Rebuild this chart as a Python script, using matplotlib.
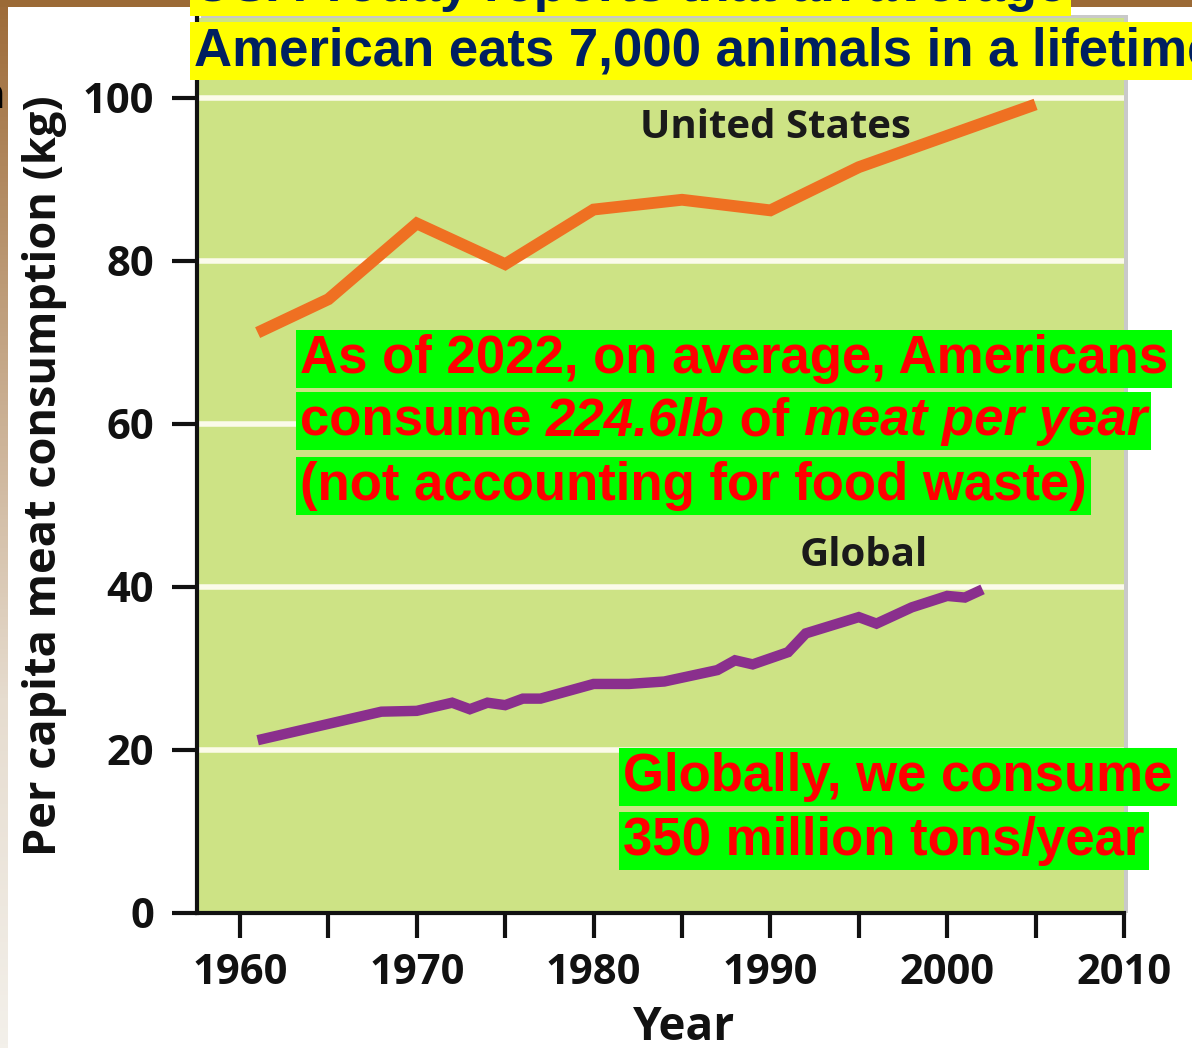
import numpy as np
import matplotlib.pyplot as plt
from matplotlib.patches import Rectangle
from matplotlib.colors import LinearSegmentedColormap
from matplotlib.offsetbox import TextArea, HPacker, AnchoredOffsetbox

# per capita meat consumption (kg)
us_years = [1961, 1965, 1970, 1975, 1980, 1985, 1990, 1995, 2005]
us_kg = [71.2, 75.3, 84.6, 79.6, 86.3, 87.5, 86.2, 91.5, 99.2]

global_years = [1961, 1968, 1970, 1972, 1973, 1974, 1975, 1976, 1977, 1980, 1982,
                1984, 1987, 1988, 1989, 1991, 1992, 1995, 1996, 1998, 2000, 2001, 2002]
global_kg = [21.2, 24.7, 24.8, 25.8, 25.0, 25.8, 25.5, 26.3, 26.3, 28.1, 28.1,
             28.4, 29.8, 31.0, 30.5, 32.0, 34.3, 36.3, 35.5, 37.5, 38.9, 38.7, 39.7]

x_ticks = [1960, 1970, 1980, 1990, 2000, 2010]
x_minor = [1965, 1975, 1985, 1995, 2005]
y_ticks = [0, 20, 40, 60, 80, 100]

W, H = 1192, 1048
fig = plt.figure(figsize=(W / 100, H / 100), dpi=100)
fig.patch.set_facecolor('white')

# slide frame: brown bar on top, faded strip down the left side
fig.patches.append(Rectangle((0, 1 - 7 / H), 1, 7 / H, transform=fig.transFigure,
                             facecolor='#9b6a36', edgecolor='none', zorder=-5))
strip = fig.add_axes([0, 0, 8 / W, 1 - 7 / H])
grad = LinearSegmentedColormap.from_list('frame', ['#9e6c3a', '#c4a686', '#e6dccf', '#f3f0ea'])
strip.imshow(np.linspace(0, 1, 256).reshape(-1, 1), aspect='auto', cmap=grad)
strip.axis('off')

# drop shadow behind the plot panel
fig.patches.append(Rectangle((201 / W, (H - 913) / H), 927 / W, (913 - 15) / H,
                             transform=fig.transFigure, facecolor='#c9c9c9',
                             edgecolor='none', zorder=-1))

ax = fig.add_axes([197 / W, (H - 913) / H, 927 / W, (913 - 18) / H])
ax.set_facecolor('#cde385')

ax.plot(us_years, us_kg, color='#ef7022', lw=8.5, solid_joinstyle='miter',
        solid_capstyle='butt', zorder=3)
ax.plot(global_years, global_kg, color='#8a2f8d', lw=7.5, solid_joinstyle='miter',
        solid_capstyle='butt', zorder=3)

ax.set_xlim(1957.57, 2010)
ax.set_ylim(0, 109.8)
for g in y_ticks[1:]:
    ax.axhline(g, color='#fbfbea', lw=4, zorder=1)

for s in ['top', 'right']:
    ax.spines[s].set_visible(False)
for s in ['left', 'bottom']:
    ax.spines[s].set_linewidth(3)
    ax.spines[s].set_color('#111111')

tick_font = {'family': 'Open Sans', 'weight': 'bold', 'size': 30}
ax.set_xticks(x_ticks)
ax.set_xticks(x_minor, minor=True)
ax.set_xticklabels([str(t) for t in x_ticks], fontdict=tick_font, color='#111111')
ax.set_yticks(y_ticks)
ax.set_yticklabels([str(t) for t in y_ticks], fontdict=tick_font, color='#111111')
ax.tick_params(axis='x', which='both', direction='out', length=18, width=3,
               color='#111111', pad=11)
ax.tick_params(axis='y', direction='out', length=18, width=3, color='#111111', pad=13)

ax.set_ylabel('Per capita meat consumption (kg)', family='Open Sans',
              weight='bold', size=32.5, color='#111111')
ax.yaxis.label.set_va('center')
ax.yaxis.set_label_coords(-0.164, 0.489)
ax.set_xlabel('Year', family='Open Sans', weight='bold', size=33, color='#111111')
ax.xaxis.label.set_va('center')
ax.xaxis.set_label_coords(0.525, -0.128)

ax.text(1990.3, 96.4, 'United States', family='Open Sans', weight='bold',
        size=29, color='#1a1a1a', ha='center', va='center')
ax.text(1995.3, 43.9, 'Global', family='Open Sans', weight='bold',
        size=29, color='#1a1a1a', ha='center', va='center')

# cut-off glyph at the left edge
fig.text(0.004, 1 - 97 / H, 'n', ha='right', va='center', family='Open Sans',
         weight='bold', size=30, color='black')


def highlight(parts, x, y, fg, bg, size=38):
    boxes = [TextArea(s, textprops=dict(color=fg, size=size, weight='bold',
                                        style=st, family='Liberation Sans'))
             for s, st in parts]
    pack = HPacker(children=boxes, align='baseline', pad=0, sep=0)
    box = AnchoredOffsetbox(loc='upper left', child=pack, pad=0.3, borderpad=0,
                            frameon=True, bbox_to_anchor=(x / W, 1 - y / H),
                            bbox_transform=fig.transFigure)
    box.patch.set_facecolor(bg)
    box.patch.set_edgecolor('none')
    box.set_zorder(10)
    fig.add_artist(box)


navy, yellow = '#002060', '#ffff00'
red, lime = '#ff0000', '#00ff00'
highlight([('USA Today reports that an average', 'normal')], 190, -42, navy, yellow)
highlight([('American eats 7,000 animals in a lifetime', 'normal')], 190, 22, navy, yellow)

highlight([('As of 2022, on average, Americans', 'normal')], 296, 330, red, lime)
highlight([('consume ', 'normal'), ('224.6lb', 'italic'), (' of ', 'normal'),
           ('meat per year', 'italic')], 296, 392, red, lime)
highlight([('(not accounting for food waste)', 'normal')], 296, 457, red, lime)

highlight([('Globally, we consume', 'normal')], 619, 748, red, lime)
highlight([('350 million tons/year', 'normal')], 619, 812, red, lime)

plt.savefig('out.png', dpi=100)
